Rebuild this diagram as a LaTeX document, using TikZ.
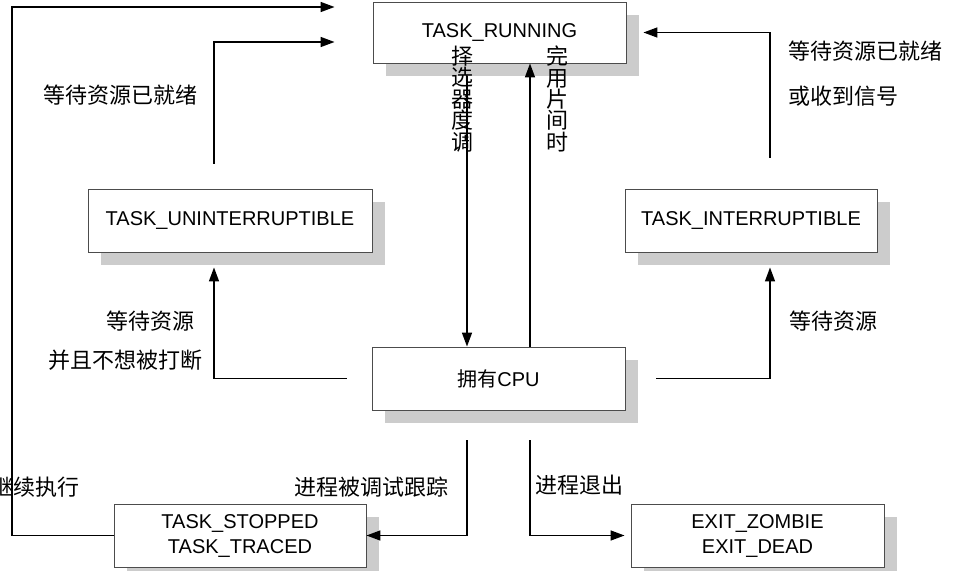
\documentclass[tikz,border=0pt]{standalone}
\usepackage{fontspec}
\setmainfont{Liberation Sans}
\newfontfamily\cjk{Noto Sans CJK SC}
\usetikzlibrary{arrows.meta,shadows}
\begin{document}
\begin{tikzpicture}[x=1pt,y=-1pt,
  box/.style={draw=black!70, line width=0.9pt, fill=white, rectangle, inner sep=0pt,
    font=\fontsize{20}{25}\selectfont, align=center,
    drop shadow={shadow xshift=13pt,shadow yshift=-13pt,fill=black!20,opacity=1}},
  conn/.style={line width=1.5pt, -{Triangle[length=14pt,width=10pt]}},
  lbl/.style={font=\fontsize{22}{26}\selectfont\cjk, inner sep=0pt},
  vlbl/.style={inner sep=0pt, align=center, text width=22pt, font=\fontsize{22}{21.4}\selectfont\cjk}]
\useasboundingbox (0,0) rectangle (968,570);
\clip (0,0) rectangle (968,570);

% states
\node[box, minimum width=253pt, minimum height=61pt] (run) at (499.5,32.5) {TASK\_RUNNING};
\node[box, minimum width=284pt, minimum height=63pt] (unint) at (230,220.5) {TASK\_UNINTERRUPTIBLE};
\node[box, minimum width=252pt, minimum height=63pt] (intr) at (751,220.5) {TASK\_INTERRUPTIBLE};
\node[box, minimum width=253pt, minimum height=63pt] (cpu) at (498.5,378.5) {{\cjk 拥有}CPU};
\node[box, minimum width=252pt, minimum height=63pt] (stop) at (240,535.5) {TASK\_STOPPED\\TASK\_TRACED};
\node[box, minimum width=253pt, minimum height=63pt] (exit) at (757.5,535.5) {EXIT\_ZOMBIE\\EXIT\_DEAD};

% connectors
\draw[conn, shorten <=13pt] ([xshift=-32.5pt]run.south) -- ([xshift=-31.5pt]cpu.north);
\draw[conn] ([xshift=31.5pt]cpu.north) -- ([xshift=30.5pt]run.south);
\draw[conn, shorten <=25pt, shorten >=15pt] (cpu.west) -| ([xshift=-16pt]unint.south);
\draw[conn, shorten <=31pt, shorten >=15pt] (cpu.east) -| ([xshift=19pt]intr.south);
\draw[conn, shorten <=25pt, shorten >=38pt] ([xshift=-16pt]unint.north) |- ([yshift=-9.5pt]run.west);
\draw[conn, shorten <=31pt, shorten >=17pt] ([xshift=19pt]intr.north) |- (run.east);
\draw[conn, shorten <=30pt] ([xshift=-31.5pt]cpu.south) |- (stop.east);
\draw[conn, shorten <=30pt, shorten >=6pt] ([xshift=31.5pt]cpu.south) |- (exit.west);
\coordinate (loop) at (12,7);
\draw[conn, shorten >=38pt] (stop.west) -| (loop) -- (loop -| run.west);

% labels
\node[lbl] (l1) at (120,95) {等待资源已就绪};
\node[lbl, anchor=west] (r1) at (788,51) {等待资源已就绪};
\node[lbl, anchor=west] (r2) at (788,96) {或收到信号};
\node[lbl] (l2) at (150,321) {等待资源};
\node[lbl] (l3) at (125.5,360) {并且不想被打断};
\node[lbl] (r3) at (833,321) {等待资源};
\node[lbl, anchor=east] (l4) at (80,487) {继续执行};
\node[lbl] (l5) at (371.5,487) {进程被调试跟踪};
\node[lbl] (l6) at (579.5,485) {进程退出};
\node[vlbl] (v1) at (462,99) {择\\选\\器\\度\\调};
\node[vlbl] (v2) at (557,99) {完\\用\\片\\间\\时};
\end{tikzpicture}
\end{document}
